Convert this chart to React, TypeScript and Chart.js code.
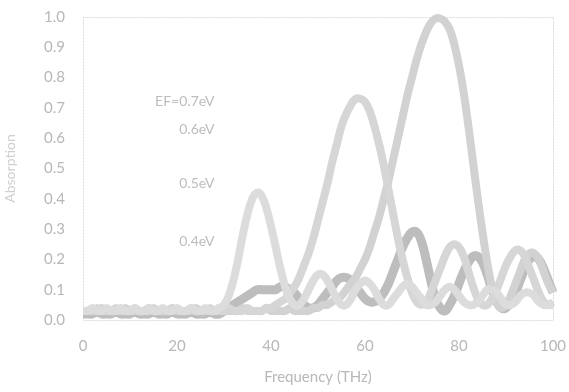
import React, { useEffect, useRef } from "react";
import { Chart, registerables } from "chart.js";

Chart.register(...registerables);

const freq: number[] = Array.from({ length: 101 }, (_, i) => i);

const curveA: number[] = [
  0.03, 0.03, 0.04, 0.03, 0.03, 0.04, 0.03, 0.03, 0.04, 0.03,
  0.03, 0.04, 0.03, 0.03, 0.04, 0.03, 0.03, 0.04, 0.03, 0.03,
  0.04, 0.03, 0.03, 0.04, 0.03, 0.03, 0.04, 0.03, 0.03, 0.04,
  0.05, 0.08, 0.13, 0.2, 0.28, 0.35, 0.4, 0.42, 0.41, 0.37,
  0.31, 0.24, 0.17, 0.11, 0.07, 0.05, 0.05, 0.07, 0.1, 0.13,
  0.15, 0.15, 0.13, 0.1, 0.07, 0.05, 0.05, 0.07, 0.1, 0.12,
  0.13, 0.12, 0.1, 0.07, 0.05, 0.05, 0.07, 0.09, 0.11, 0.12,
  0.11, 0.09, 0.07, 0.05, 0.05, 0.06, 0.08, 0.1, 0.11, 0.1,
  0.08, 0.06, 0.05, 0.05, 0.06, 0.08, 0.1, 0.1, 0.09, 0.07,
  0.05, 0.05, 0.06, 0.08, 0.09, 0.09, 0.08, 0.06, 0.05, 0.05,
  0.06,
];

const curveB: number[] = [
  0.03, 0.03, 0.03, 0.04, 0.03, 0.03, 0.03, 0.04, 0.03, 0.03,
  0.03, 0.04, 0.03, 0.03, 0.03, 0.04, 0.03, 0.03, 0.03, 0.04,
  0.03, 0.03, 0.03, 0.04, 0.03, 0.03, 0.03, 0.04, 0.03, 0.03,
  0.03, 0.04, 0.03, 0.03, 0.03, 0.04, 0.03, 0.03, 0.03, 0.04,
  0.04, 0.05, 0.06, 0.07, 0.09, 0.11, 0.14, 0.18, 0.22, 0.27,
  0.33, 0.39, 0.45, 0.52, 0.58, 0.64, 0.68, 0.71, 0.73, 0.73,
  0.72, 0.69, 0.64, 0.58, 0.51, 0.43, 0.35, 0.27, 0.2, 0.14,
  0.09, 0.06, 0.05, 0.06, 0.09, 0.13, 0.17, 0.21, 0.24, 0.25,
  0.24, 0.21, 0.16, 0.11, 0.07, 0.05, 0.05, 0.07, 0.1, 0.14,
  0.18, 0.21, 0.23, 0.23, 0.21, 0.17, 0.13, 0.09, 0.06, 0.05,
  0.05,
];

const curveC: number[] = [
  0.03, 0.03, 0.03, 0.03, 0.04, 0.03, 0.03, 0.03, 0.03, 0.04,
  0.03, 0.03, 0.03, 0.03, 0.04, 0.03, 0.03, 0.03, 0.03, 0.04,
  0.03, 0.03, 0.03, 0.03, 0.04, 0.03, 0.03, 0.03, 0.03, 0.04,
  0.03, 0.03, 0.03, 0.03, 0.04, 0.03, 0.03, 0.03, 0.03, 0.04,
  0.03, 0.03, 0.03, 0.03, 0.04, 0.03, 0.03, 0.03, 0.03, 0.04,
  0.04, 0.05, 0.05, 0.06, 0.07, 0.08, 0.1, 0.12, 0.14, 0.17,
  0.2, 0.24, 0.29, 0.34, 0.4, 0.46, 0.53, 0.6, 0.67, 0.74,
  0.8, 0.86, 0.91, 0.95, 0.98, 0.995, 0.995, 0.985, 0.96, 0.91,
  0.84, 0.75, 0.64, 0.52, 0.4, 0.29, 0.19, 0.11, 0.06, 0.04,
  0.05, 0.08, 0.12, 0.16, 0.2, 0.22, 0.22, 0.2, 0.16, 0.12,
  0.09,
];

const curveD: number[] = [
  0.02, 0.02, 0.02, 0.03, 0.02, 0.02, 0.02, 0.03, 0.02, 0.02,
  0.02, 0.03, 0.02, 0.02, 0.02, 0.03, 0.02, 0.02, 0.02, 0.03,
  0.02, 0.02, 0.02, 0.03, 0.02, 0.02, 0.02, 0.03, 0.02, 0.02,
  0.03, 0.04, 0.05, 0.06, 0.07, 0.08, 0.09, 0.1, 0.1, 0.1,
  0.1, 0.1, 0.11, 0.11, 0.1, 0.09, 0.07, 0.05, 0.04, 0.04,
  0.05, 0.07, 0.09, 0.11, 0.13, 0.14, 0.14, 0.13, 0.11, 0.09,
  0.07, 0.06, 0.06, 0.07, 0.09, 0.12, 0.16, 0.2, 0.24, 0.27,
  0.29, 0.29, 0.26, 0.2, 0.13, 0.07, 0.04, 0.03, 0.05, 0.08,
  0.12, 0.16, 0.19, 0.21, 0.21, 0.19, 0.15, 0.1, 0.06, 0.04,
  0.04, 0.06, 0.09, 0.13, 0.17, 0.2, 0.21, 0.2, 0.17, 0.13,
  0.09,
];

const seriesNames: string[] = ["0.4eV", "0.5eV", "0.6eV", "0.3eV"];
const seriesColors: string[] = ["#dcdcdc", "#d6d6d6", "#d2d2d2", "#bdbdbd"];

const noteTexts: string[] = ["E\u0046=0.7eV", "0.6eV", "0.5eV", "0.4eV"];
const noteX: number[] = [28, 28, 28, 28];
const noteY: number[] = [0.72, 0.63, 0.45, 0.26];

const yTicks: number[] = [0, 0.1, 0.2, 0.3, 0.4, 0.5, 0.6, 0.7, 0.8, 0.9, 1.0];
const xTicks: number[] = [0, 20, 40, 60, 80, 100];

const FONT = "Lato, 'Open Sans', sans-serif";
const TXT = "#b8b8b8";

export default function App() {
  const ref = useRef<HTMLCanvasElement | null>(null);

  useEffect(() => {
    document.body.style.margin = "0";
    const canvas = ref.current;
    if (!canvas) return;

    const framePlugin = {
      id: "frame",
      beforeDatasetsDraw(chart: any) {
        const { ctx, chartArea } = chart;
        ctx.save();
        ctx.strokeStyle = "#dadada";
        ctx.lineWidth = 1;
        ctx.setLineDash([2, 1]);
        ctx.strokeRect(chartArea.left + 0.5, chartArea.top + 0.5, chartArea.right - chartArea.left, chartArea.bottom - chartArea.top);
        ctx.restore();
      },
      afterDatasetsDraw(chart: any) {
        const { ctx } = chart;
        const xs = chart.scales.x;
        const ys = chart.scales.y;
        ctx.save();
        ctx.fillStyle = "#bdbdbd";
        ctx.font = `14px ${FONT}`;
        ctx.textAlign = "right";
        ctx.textBaseline = "middle";
        noteTexts.forEach((t, i) => {
          ctx.fillText(t, xs.getPixelForValue(noteX[i]), ys.getPixelForValue(noteY[i]));
        });
        ctx.restore();
      },
    };

    const curves = [curveA, curveB, curveC, curveD];
    const chart = new Chart(canvas, {
      type: "line",
      data: {
        labels: freq,
        datasets: curves.map((c, i) => ({
          label: seriesNames[i],
          data: c.map((v, j) => ({ x: freq[j], y: v })),
          borderColor: seriesColors[i],
          backgroundColor: seriesColors[i],
          borderWidth: i === 3 ? 9 : 8,
          pointRadius: 0,
          tension: 0.4,
          fill: false,
          clip: 8,
        })),
      },
      options: {
        animation: false,
        responsive: false,
        layout: { padding: { top: 17, right: 16, left: 0, bottom: 0 } },
        plugins: { legend: { display: false }, tooltip: { enabled: false } },
        scales: {
          x: {
            type: "linear",
            min: 0,
            max: 100,
            afterBuildTicks: (s: any) => { s.ticks = xTicks.map((v) => ({ value: v })); },
            afterFit: (s: any) => { s.height = 72; s.paddingLeft = 0; s.paddingRight = 0; },
            grid: { display: false, drawTicks: false },
            border: { display: false },
            ticks: { color: TXT, font: { family: FONT, size: 15 }, padding: 17, maxRotation: 0 },
            title: { display: true, text: "Frequency (THz)", color: TXT, font: { family: FONT, size: 15 }, padding: { top: 0, bottom: 6 } },
          },
          y: {
            type: "linear",
            min: 0,
            max: 1.0,
            afterBuildTicks: (s: any) => { s.ticks = yTicks.map((v) => ({ value: v })); },
            afterFit: (s: any) => { s.width = 83; s.paddingTop = 0; s.paddingBottom = 0; },
            grid: { display: false, drawTicks: false },
            border: { display: false },
            ticks: { color: TXT, font: { family: FONT, size: 15 }, padding: 18, callback: (v: any) => Number(v).toFixed(1) },
            title: { display: true, text: "Absorption", color: "#d0d0d0", font: { family: FONT, size: 14 }, padding: { top: 2, bottom: 0 } },
          },
        },
      },
      plugins: [framePlugin],
    } as any);

    return () => chart.destroy();
  }, []);

  return (
    <div style={{ position: "absolute", left: 0, top: 0, width: 569, height: 392, background: "#fff" }}>
      <canvas ref={ref} width={569} height={392} style={{ display: "block" }} />
    </div>
  );
}
